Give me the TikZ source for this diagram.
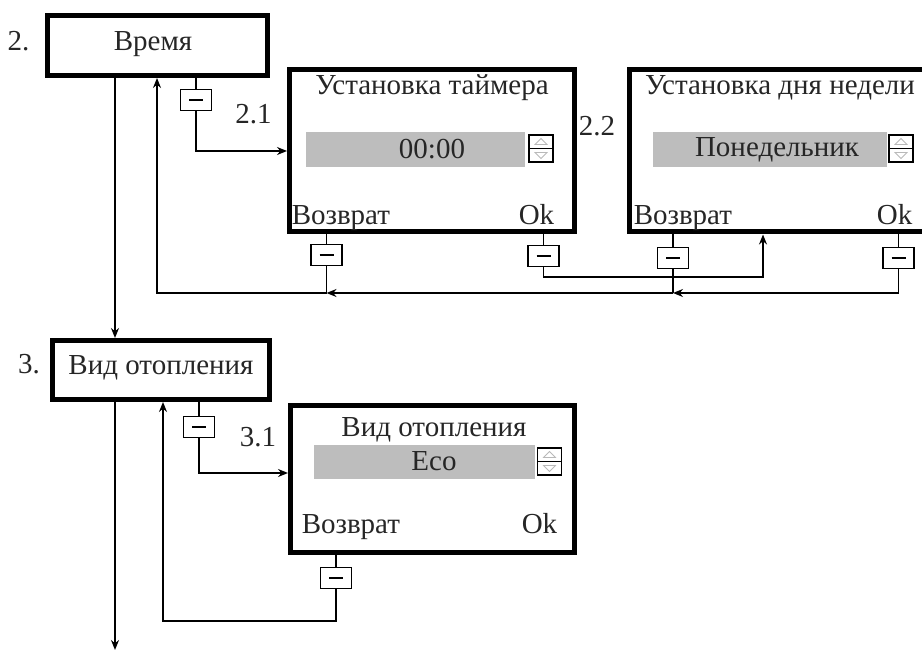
\documentclass[tikz,border=0pt]{standalone}
\usepackage{fontspec}
\setmainfont{Liberation Serif}
\usetikzlibrary{arrows.meta}
\definecolor{ink}{gray}{0.15}
\definecolor{lcd}{gray}{0.74}
\tikzset{
  menubox/.style={draw, line width=2.5pt, inner sep=0pt},
  lcdfield/.style={fill=lcd, inner sep=0pt},
  txt/.style={inner sep=0pt, text=ink},
  key/.style={draw, fill=white, line width=0.6pt, minimum width=15.5pt, minimum height=10.5pt, inner sep=0pt},
  spinner/.pic={
    \draw[line width=0.8pt] (-12,-13.5) rectangle (12,13.5) (-12,0) -- (12,0);
    \draw[gray!55, line width=0.4pt] (-6,-4) -- (0,-10) -- (6,-4) -- cycle
      (-6,4) -- (0,10) -- (6,4) -- cycle;
  }
}
\newcommand\minus{\rule{7pt}{0.75pt}}
\begin{document}
\begin{tikzpicture}[x=0.5pt, y=-0.5pt, font=\fontsize{14.5}{17}\selectfont,
  line width=0.75pt, >={Stealth[length=5pt,width=4pt]}]
  \useasboundingbox (0,0) rectangle (922,652);
  \clip (0,0) rectangle (922,652);
  % menu entries and screens
  \node[menubox, minimum width=110pt, minimum height=30pt] (menu2) at (157.5,45.5) {};
  \node[menubox, minimum width=108.5pt, minimum height=29.5pt] (menu3) at (161,370) {};
  \node[menubox, minimum width=142.5pt, minimum height=81pt] (box21) at (432,151) {};
  \node[menubox, minimum width=147.5pt, minimum height=81pt] (box22) at (777,151) {};
  \node[menubox, minimum width=142pt, minimum height=73.5pt] (box31) at (432.5,479) {};
  \node[txt] (t2) at (153,44) {Время};
  \node[txt] (t3) at (161,368) {Вид отопления};
  \node[txt] (n2) at (18.5,41) {2.};
  \node[txt] (n3) at (29,364) {3.};
  \node[txt] (n21) at (253.5,114) {2.1};
  \node[txt] (n22) at (597,126) {2.2};
  \node[txt] (n31) at (258,437) {3.1};
  % screen 2.1
  \node[txt] (h21) at (432,88) {Установка таймера};
  \node[lcdfield, minimum width=109.5pt, minimum height=17.5pt] (f21) at (415.5,149.5) {};
  \node[txt] (v21) at (432,149.5) {00:00};
  \pic at (541,148.5) {spinner};
  \node[txt, anchor=base west] (r21) at (291,225) {Возврат};
  \node[txt, anchor=base east] (ok21) at (555,225) {Ok};
  % screen 2.2
  \node[txt] (h22) at (780,88) {Установка дня недели};
  \node[lcdfield, minimum width=117pt, minimum height=17.5pt] (f22) at (770,149.5) {};
  \node[txt] (v22) at (777,149.5) {Понедельник};
  \pic at (901,148.5) {spinner};
  \node[txt, anchor=base west] (r22) at (633,225) {Возврат};
  \node[txt, anchor=base east] (ok22) at (913,225) {Ok};
  % screen 3.1
  \node[txt] (h31) at (434,430) {Вид отопления};
  \node[lcdfield, minimum width=110.5pt, minimum height=17pt] (f31) at (424.5,462) {};
  \node[txt] (v31) at (434,461) {Eco};
  \pic at (549.5,461.5) {spinner};
  \node[txt, anchor=base west] (r31) at (301,533) {Возврат};
  \node[txt, anchor=base east] (ok31) at (558,533) {Ok};
  % keys
  \node[key] (key2) at (196,100) {\minus};
  \node[key] (key21r) at (326.5,255) {\minus};
  \node[key] (key21ok) at (543.5,256) {\minus};
  \node[key] (key22r) at (673,258) {\minus};
  \node[key] (key22ok) at (898.5,258) {\minus};
  \node[key] (key3) at (199,427) {\minus};
  \node[key] (key31) at (336,578) {\minus};
  \coordinate (trunk) at (115,0);
  \coordinate (back2) at (157,0);
  \coordinate (back3) at (163,0);
  \coordinate (in22) at (763,0);
  \coordinate (row2) at (0,293);
  \coordinate (row2ok) at (0,277);
  \coordinate (row3) at (0,621);
  \coordinate (end3) at (115,650);
  % connectors
  \draw[->] (menu2.south -| trunk) -- (menu3.north -| trunk);
  \draw[->] (menu3.south -| trunk) -- (end3);
  \draw (menu2.south -| key2) -- (key2.north);
  \draw[->] (key2.south) |- (box21.west);
  \draw (box21.south -| key21r) -- (key21r.north);
  \draw[->] (key21r.south) |- (back2 |- row2) -- (menu2.south -| back2);
  \draw (box21.south -| key21ok) -- (key21ok.north);
  \draw[->] (key21ok.south) |- (in22 |- row2ok) -- (box22.south -| in22);
  \draw (box22.south -| key22r) -- (key22r.north);
  \draw (key22r.south) -- (key22r |- row2);
  \draw (box22.south -| key22ok) -- (key22ok.north);
  \draw[->] (key22ok.south) |- (key22r |- row2);
  \draw[->] (key22r |- row2) -- (key21r |- row2);
  \draw (menu3.south -| key3) -- (key3.north);
  \draw[->] (key3.south) |- ([yshift=3pt]box31.west);
  \draw (box31.south -| key31) -- (key31.north);
  \draw[->] (key31.south) |- (back3 |- row3) -- (menu3.south -| back3);
\end{tikzpicture}
\end{document}
